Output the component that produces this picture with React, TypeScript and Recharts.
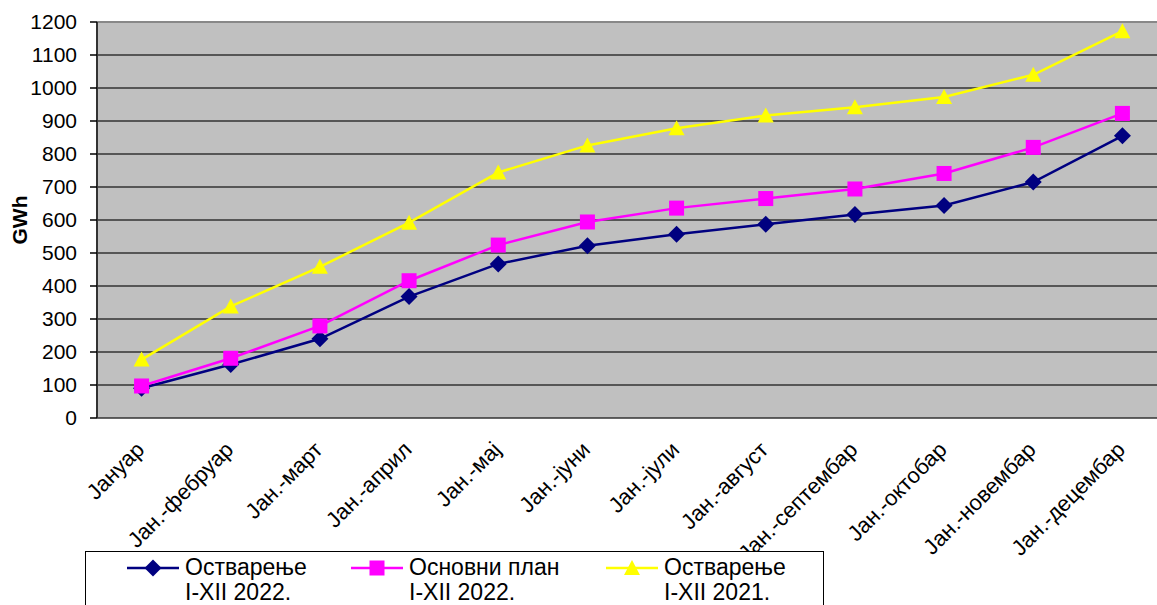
import React from "react";
import {
  LineChart,
  Line,
  XAxis,
  YAxis,
  CartesianGrid,
  ReferenceLine,
} from "recharts";

const FONT = '"Liberation Sans", Arial, sans-serif';

// cumulative months (categories)
const months = [
  "Јануар",
  "Јан.-фебруар",
  "Јан.-март",
  "Јан.-април",
  "Јан.-мај",
  "Јан.-јуни",
  "Јан.-јули",
  "Јан.-август",
  "Јан.-септембар",
  "Јан.-октобар",
  "Јан.-новембар",
  "Јан.-децембар",
];

// GWh
const real2022 = [90, 162, 240, 368, 467, 522, 557, 587, 617, 644, 715, 855];
const plan2022 = [97, 181, 279, 416, 524, 594, 636, 665, 694, 741, 820, 923];
const real2021 = [177, 338, 458, 592, 744, 826, 878, 917, 942, 973, 1040, 1172];

const yTicks = [0, 100, 200, 300, 400, 500, 600, 700, 800, 900, 1000, 1100, 1200];
const boundaryTicks = [0, 1, 2, 3, 4, 5, 6, 7, 8, 9, 10, 11, 12];

const seriesNames = [
  ["Остварење", "I-XII 2022."],
  ["Основни план", "I-XII 2022."],
  ["Остварење", "I-XII 2021."],
];

const data = months.map((month, i) => ({
  month,
  real2022: real2022[i],
  plan2022: plan2022[i],
  real2021: real2021[i],
}));

function Diamond(props: any) {
  const { cx, cy } = props;
  if (cx == null || cy == null) return null;
  const r = 8.5;
  return (
    <polygon
      points={`${cx},${cy - r} ${cx + r},${cy} ${cx},${cy + r} ${cx - r},${cy}`}
      fill="#000080"
      stroke="none"
    />
  );
}

function Square(props: any) {
  const { cx, cy } = props;
  if (cx == null || cy == null) return null;
  const r = 7.5;
  return <rect x={cx - r} y={cy - r} width={r * 2} height={r * 2} fill="#FF00FF" />;
}

function Triangle(props: any) {
  const { cx, cy } = props;
  if (cx == null || cy == null) return null;
  const r = 8;
  return (
    <polygon
      points={`${cx},${cy - r} ${cx + r},${cy + r - 1} ${cx - r},${cy + r - 1}`}
      fill="#FFFF00"
      stroke="none"
    />
  );
}

function MonthTick(props: any) {
  const { x, y, payload } = props;
  return (
    <g transform={`translate(${x + 4},${y + 33})`}>
      <text
        textAnchor="end"
        transform="rotate(-45)"
        fontSize={22}
        fontFamily={FONT}
        fill="#000"
      >
        {payload.value}
      </text>
    </g>
  );
}

function GWhLabel(props: any) {
  const { viewBox } = props;
  const cy = viewBox.y + viewBox.height / 2;
  return (
    <text
      x={27}
      y={cy}
      transform={`rotate(-90, 27, ${cy})`}
      textAnchor="middle"
      fontSize={21}
      fontWeight="bold"
      fontFamily={FONT}
      fill="#000"
    >
      GWh
    </text>
  );
}

function LegendIcon({ index }: { index: number }) {
  const colors = ["#000080", "#FF00FF", "#FFFF00"];
  return (
    <svg width={52} height={20} style={{ display: "block" }}>
      <line x1={0} y1={10} x2={52} y2={10} stroke={colors[index]} strokeWidth={2.5} />
      {index === 0 && <Diamond cx={26} cy={10} />}
      {index === 1 && <Square cx={26} cy={10} />}
      {index === 2 && <Triangle cx={26} cy={10} />}
    </svg>
  );
}

function ChartLegend() {
  const iconX = [127, 351, 606];
  return (
    <div
      style={{
        position: "absolute",
        left: 85,
        top: 551,
        width: 737,
        height: 80,
        border: "1px solid #000",
        background: "#fff",
        fontFamily: FONT,
        fontSize: 23,
        color: "#000",
      }}
    >
      {seriesNames.map((lines, i) => (
        <div key={i}>
          <div style={{ position: "absolute", left: iconX[i] - 86, top: 6 }}>
            <LegendIcon index={i} />
          </div>
          <div
            style={{
              position: "absolute",
              left: iconX[i] - 86 + 58,
              top: 3,
              lineHeight: "25px",
              whiteSpace: "nowrap",
            }}
          >
            <div>{lines[0]}</div>
            <div>{lines[1]}</div>
          </div>
        </div>
      ))}
    </div>
  );
}

export default function App() {
  return (
    <div
      style={{
        position: "absolute",
        left: 0,
        top: 0,
        width: 1157,
        height: 605,
        overflow: "hidden",
        background: "#fff",
      }}
    >
      <LineChart
        width={1170}
        height={605}
        data={data}
        margin={{ top: 22, right: 3, left: 0, bottom: 0 }}
      >
        <CartesianGrid
          xAxisId="cat"
          vertical={false}
          fill="#C0C0C0"
          stroke="#333"
          strokeWidth={1.5}
          strokeOpacity={1}
        />
        <XAxis
          xAxisId="grid"
          type="number"
          domain={[0, 12]}
          ticks={boundaryTicks}
          allowDataOverflow
          height={0}
          tick={false}
          tickSize={7}
          tickLine={{ stroke: "#000", strokeWidth: 1.5 }}
          axisLine={{ stroke: "#000", strokeWidth: 2 }}
        />
        <XAxis
          xAxisId="cat"
          dataKey="month"
          scale="band"
          height={187}
          interval={0}
          tickLine={false}
          axisLine={false}
          tickSize={0}
          tickMargin={0}
          tick={<MonthTick />}
        />
        <YAxis
          width={97}
          domain={[0, 1200]}
          ticks={yTicks}
          interval={0}
          tickSize={7}
          tickMargin={13}
          tickLine={{ stroke: "#000", strokeWidth: 1.5 }}
          axisLine={{ stroke: "#333", strokeWidth: 2 }}
          tick={{ fontSize: 21, fontFamily: FONT, fill: "#000" }}
          label={<GWhLabel />}
        />
        <ReferenceLine xAxisId="cat" y={1200} stroke="#888" strokeWidth={2} />
        <Line
          xAxisId="cat"
          dataKey="real2022"
          stroke="#000080"
          strokeWidth={2.5}
          dot={<Diamond />}
          activeDot={false}
          isAnimationActive={false}
        />
        <Line
          xAxisId="cat"
          dataKey="plan2022"
          stroke="#FF00FF"
          strokeWidth={2.5}
          dot={<Square />}
          activeDot={false}
          isAnimationActive={false}
        />
        <Line
          xAxisId="cat"
          dataKey="real2021"
          stroke="#FFFF00"
          strokeWidth={2.5}
          dot={<Triangle />}
          activeDot={false}
          isAnimationActive={false}
        />
      </LineChart>
      <ChartLegend />
    </div>
  );
}
